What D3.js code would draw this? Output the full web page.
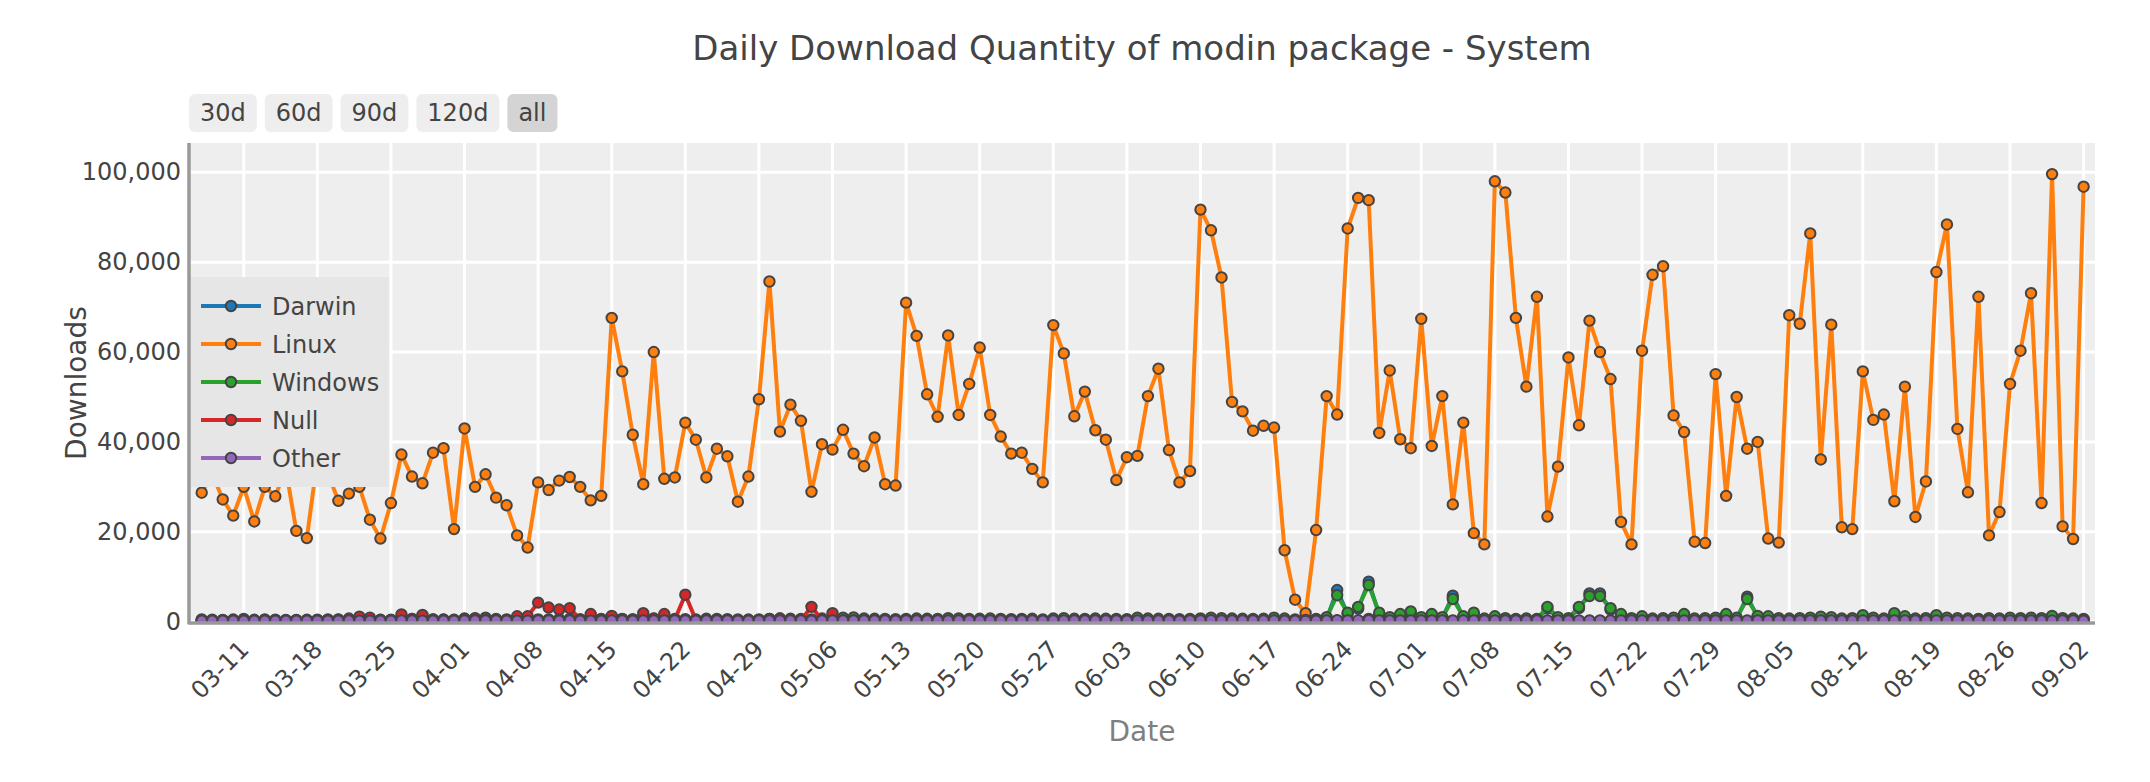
<!DOCTYPE html>
<html>
<head>
<meta charset="utf-8">
<script src="https://cdn.jsdelivr.net/npm/d3@7"></script>
<style>
  body { margin: 0; background: #fff; }
  svg { display: block; font-family: "DejaVu Sans", Verdana, sans-serif; }
</style>
</head>
<body>
<div id="chart"></div>
<script>
// daily values, first day 2024-03-07, 180 days
const startDay = "2024-03-07";
const seriesNames = ["Darwin", "Linux", "Windows", "Null", "Other"];
const seriesColors = ["#1f77b4", "#ff7f0e", "#2ca02c", "#d62728", "#9467bd"];

const darwin = [
  300,280,320,350,300,260,300,310,280,300,
  320,300,280,350,330,300,310,290,300,340,
  360,330,300,320,280,400,380,450,360,320,
  300,320,350,330,360,380,340,300,320,400,
  380,350,400,420,450,400,380,350,420,400,
  380,350,330,360,400,450,420,400,350,450,
  420,500,520,450,420,400,380,400,450,420,
  400,480,460,400,420,450,400,380,400,420,
  350,450,500,420,400,450,420,400,380,520,
  450,420,400,380,400,480,520,500,450,420,
  400,420,450,380,300,250,350,600,7050,1700,
  2900,8900,1500,800,1200,1900,800,1200,800,5800,
  1000,1600,500,900,600,500,600,500,2900,800,
  600,3000,6300,6300,2700,1400,600,1000,500,600,
  700,1400,500,600,700,1200,700,5560,1000,900,
  600,500,600,700,800,700,500,600,1200,700,
  500,1600,1000,500,600,1200,700,600,500,450,
  600,500,700,600,700,600,1100,600,500,450
];
const linux = [
  28700,33000,27200,23600,30000,22300,30000,27900,34000,20200,
  18600,36000,33000,26900,28500,30000,22700,18500,26400,37200,
  32300,30800,37600,38600,20600,43000,30000,32800,27600,25900,
  19200,16500,31000,29300,31400,32200,30000,27000,28000,67600,
  55700,41600,30600,60000,31800,32100,44300,40500,32100,38500,
  36800,26700,32300,49500,75700,42300,48300,44700,28900,39500,
  38300,42700,37400,34600,41000,30600,30300,71000,63600,50600,
  45600,63700,46000,52900,61000,46000,41200,37400,37600,34000,
  31000,66000,59700,45700,51200,42600,40500,31500,36600,36900,
  50200,56300,38200,31000,33500,91700,87100,76600,48900,46800,
  42500,43600,43200,15900,4900,1900,20400,50200,46100,87500,
  94300,93800,42000,55900,40600,38600,67400,39100,50200,26100,
  44300,19700,17200,98000,95500,67600,52300,72300,23400,34500,
  58800,43700,67000,60000,54000,22200,17200,60300,77200,79100,
  45900,42200,17800,17500,55100,28000,50000,38500,40000,18500,
  17600,68200,66300,86400,36100,66100,21000,20600,55700,44900,
  46100,26800,52300,23300,31200,77800,88400,42900,28800,72300,
  19200,24400,52900,60300,73100,26400,99600,21200,18400,96800
];
const windows = [
  500,450,400,480,600,420,500,450,400,380,
  420,460,500,520,480,550,500,420,450,520,
  600,550,500,480,420,700,650,900,600,500,
  450,480,520,500,560,620,500,450,480,600,
  550,500,600,650,700,600,550,500,650,600,
  550,500,480,520,600,700,650,600,500,700,
  650,900,950,700,650,600,550,600,700,650,
  600,800,750,600,650,700,600,550,600,650,
  500,700,800,650,600,700,650,600,550,900,
  700,650,600,550,600,750,900,800,700,650,
  600,650,900,700,500,400,600,1000,5900,2000,
  3300,8150,2000,1000,1700,2300,1000,1700,1000,5050,
  1200,2000,700,1200,800,600,700,600,3300,1000,
  800,3300,5700,5700,3000,1700,800,1200,700,800,
  900,1700,700,800,900,1700,900,5050,1300,1200,
  800,700,800,900,1100,1000,700,800,1450,900,
  700,1900,1200,700,800,1450,900,800,700,600,
  800,700,900,800,900,800,1300,800,700,600
];
const nullOs = [
  150,200,180,220,250,200,230,260,240,300,
  280,350,400,450,700,1100,900,400,350,1600,
  600,1500,500,450,400,600,800,500,400,350,
  1200,1200,4250,3150,2700,3000,500,1700,600,1300,
  600,500,1900,700,1700,500,6000,400,350,300,
  350,300,350,400,600,700,300,350,3300,400,
  1900,300,250,200,220,180,200,250,220,200,
  180,200,220,180,160,200,180,170,160,180,
  150,200,180,160,170,200,160,150,140,180,
  170,160,150,140,160,200,220,200,180,160,
  150,160,170,140,100,80,120,180,200,180,
  190,600,180,160,170,180,160,170,150,180,
  160,150,140,170,180,160,150,140,160,150,
  140,160,170,160,150,140,130,150,140,140,
  150,160,130,140,150,160,150,180,160,150,
  140,130,140,150,160,150,130,140,160,150,
  140,160,150,130,140,160,150,140,130,500,
  140,130,150,140,150,140,170,140,130,120
];
const other = [
  220,210,230,200,240,220,210,230,220,200,
  210,230,240,220,250,230,220,210,240,250,
  260,240,230,220,210,270,250,280,260,240,
  230,240,250,260,240,250,230,220,240,260,
  250,240,260,270,280,260,250,240,270,260,
  250,240,230,250,260,280,270,260,240,270,
  260,280,290,270,260,250,240,250,270,260,
  250,270,260,250,260,270,250,240,250,260,
  240,270,280,260,250,270,260,250,240,280,
  270,260,250,240,250,290,310,300,270,260,
  250,260,270,240,210,190,230,280,320,300,
  310,330,290,270,280,290,270,280,270,300,
  280,270,250,290,300,280,270,260,280,270,
  260,280,300,290,280,260,250,270,260,260,
  270,280,250,260,270,280,270,300,280,270,
  260,250,260,270,280,270,250,260,280,270,
  260,280,270,250,260,280,270,260,250,240,
  260,250,270,260,270,260,290,260,250,240
];

const yTicks = [0, 20000, 40000, 60000, 80000, 100000];
const xTickLabels = ["03-11","03-18","03-25","04-01","04-08","04-15","04-22","04-29",
  "05-06","05-13","05-20","05-27","06-03","06-10","06-17","06-24","07-01","07-08",
  "07-15","07-22","07-29","08-05","08-12","08-19","08-26","09-02"];
const rangeButtons = ["30d", "60d", "90d", "120d", "all"];

const allValues = [darwin, linux, windows, nullOs, other];

const width = 2150, height = 782;
const plot = {left: 189, right: 2095, top: 143, bottom: 623};

const parseDay = d3.utcParse("%Y-%m-%d");
const first = parseDay(startDay);
const days = d3.range(linux.length).map(i => d3.utcDay.offset(first, i));
const year = first.getUTCFullYear();
const tickDates = xTickLabels.map(s => parseDay(year + "-" + s));

const svg = d3.select("#chart").append("svg")
  .attr("width", width)
  .attr("height", height);

svg.append("rect").attr("width", width).attr("height", height).attr("fill", "#fff");

const x = d3.scaleUtc()
  .domain([d3.utcHour.offset(days[0], -28.5), d3.utcHour.offset(days[days.length - 1], 26)])
  .range([plot.left, plot.right]);

const y = d3.scaleLinear()
  .domain([-290, 106520])
  .range([plot.bottom, plot.top]);

// plot background
svg.append("rect")
  .attr("x", plot.left).attr("y", plot.top)
  .attr("width", plot.right - plot.left).attr("height", plot.bottom - plot.top)
  .attr("fill", "#eeeeee");

// grid
const grid = svg.append("g").attr("stroke", "#fff").attr("stroke-width", 3);
grid.selectAll(".gx").data(tickDates).join("line")
  .attr("x1", d => x(d)).attr("x2", d => x(d))
  .attr("y1", plot.top).attr("y2", plot.bottom);
grid.selectAll(".gy").data(yTicks).join("line")
  .attr("x1", plot.left).attr("x2", plot.right)
  .attr("y1", d => y(d)).attr("y2", d => y(d));

svg.append("clipPath").attr("id", "clip")
  .append("rect")
  .attr("x", plot.left).attr("y", plot.top)
  .attr("width", plot.right - plot.left).attr("height", plot.bottom - plot.top);

const line = d3.line()
  .x((d, i) => x(days[i]))
  .y(d => y(d));

const traces = svg.append("g").attr("clip-path", "url(#clip)");
allValues.forEach((vals, k) => {
  const g = traces.append("g");
  g.append("path")
    .datum(vals)
    .attr("d", line)
    .attr("fill", "none")
    .attr("stroke", seriesColors[k])
    .attr("stroke-width", 4)
    .attr("stroke-linejoin", "round");
  g.selectAll("circle").data(vals).join("circle")
    .attr("cx", (d, i) => x(days[i]))
    .attr("cy", d => y(d))
    .attr("r", 5.2)
    .attr("fill", seriesColors[k])
    .attr("stroke", "#444")
    .attr("stroke-width", 2);
});

// axes lines
svg.append("line")
  .attr("x1", plot.left).attr("x2", plot.left)
  .attr("y1", plot.top).attr("y2", plot.bottom + 1.5)
  .attr("stroke", "#999").attr("stroke-width", 3.5);
svg.append("line")
  .attr("x1", plot.left).attr("x2", plot.right)
  .attr("y1", plot.bottom).attr("y2", plot.bottom)
  .attr("stroke", "#999").attr("stroke-width", 3.5);

// y axis labels
const yAxis = svg.append("g")
  .attr("transform", `translate(${plot.left},0)`)
  .call(d3.axisLeft(y).tickValues(yTicks).tickFormat(d3.format(",")).tickSize(0).tickPadding(8));
yAxis.select(".domain").remove();
yAxis.selectAll("text")
  .attr("font-size", 24)
  .attr("font-family", "DejaVu Sans, Verdana, sans-serif")
  .attr("fill", "#444");

// x axis labels
const xAxis = svg.append("g")
  .attr("transform", `translate(0,${plot.bottom})`)
  .call(d3.axisBottom(x).tickValues(tickDates).tickFormat(d3.utcFormat("%m-%d")).tickSize(0));
xAxis.select(".domain").remove();
xAxis.selectAll("text")
  .attr("y", null).attr("dy", null)
  .attr("text-anchor", "end")
  .attr("transform", "translate(6,28) rotate(-45)")
  .attr("font-size", 24)
  .attr("font-family", "DejaVu Sans, Verdana, sans-serif")
  .attr("fill", "#444");

// axis titles
svg.append("text")
  .attr("x", (plot.left + plot.right) / 2).attr("y", 741)
  .attr("text-anchor", "middle")
  .attr("font-size", 28).attr("fill", "#7f7f7f")
  .text("Date");
svg.append("text")
  .attr("transform", `translate(86,${(plot.top + plot.bottom) / 2}) rotate(-90)`)
  .attr("text-anchor", "middle")
  .attr("font-size", 28).attr("fill", "#444")
  .text("Downloads");

// title
svg.append("text")
  .attr("x", (plot.left + plot.right) / 2).attr("y", 60)
  .attr("text-anchor", "middle")
  .attr("font-size", 34).attr("fill", "#444")
  .text("Daily Download Quantity of modin package - System");

// range selector buttons
let bx = plot.left;
rangeButtons.forEach((label, i) => {
  const g = svg.append("g");
  const t = g.append("text")
    .attr("y", 121)
    .attr("text-anchor", "middle")
    .attr("font-size", 24).attr("fill", "#444")
    .text(label);
  const w = t.node().getComputedTextLength() + 22;
  g.insert("rect", "text")
    .attr("x", bx).attr("y", 94)
    .attr("width", w).attr("height", 38)
    .attr("rx", 6)
    .attr("fill", label === "all" ? "#d4d4d4" : "#eeeeee");
  t.attr("x", bx + w / 2);
  bx += w + 8;
});

// legend
const legend = svg.append("g");
legend.append("rect")
  .attr("x", plot.left + 2).attr("y", 277)
  .attr("width", 198).attr("height", 210)
  .attr("fill", "#e6e6e6");
seriesNames.forEach((name, k) => {
  const cy = 306 + k * 38;
  legend.append("line")
    .attr("x1", 201).attr("x2", 261).attr("y1", cy).attr("y2", cy)
    .attr("stroke", seriesColors[k]).attr("stroke-width", 4);
  legend.append("circle")
    .attr("cx", 231).attr("cy", cy).attr("r", 5.2)
    .attr("fill", seriesColors[k]).attr("stroke", "#444").attr("stroke-width", 2);
  legend.append("text")
    .attr("x", 272).attr("y", cy + 8.5)
    .attr("font-size", 24).attr("fill", "#444")
    .text(name);
});
</script>
</body>
</html>
